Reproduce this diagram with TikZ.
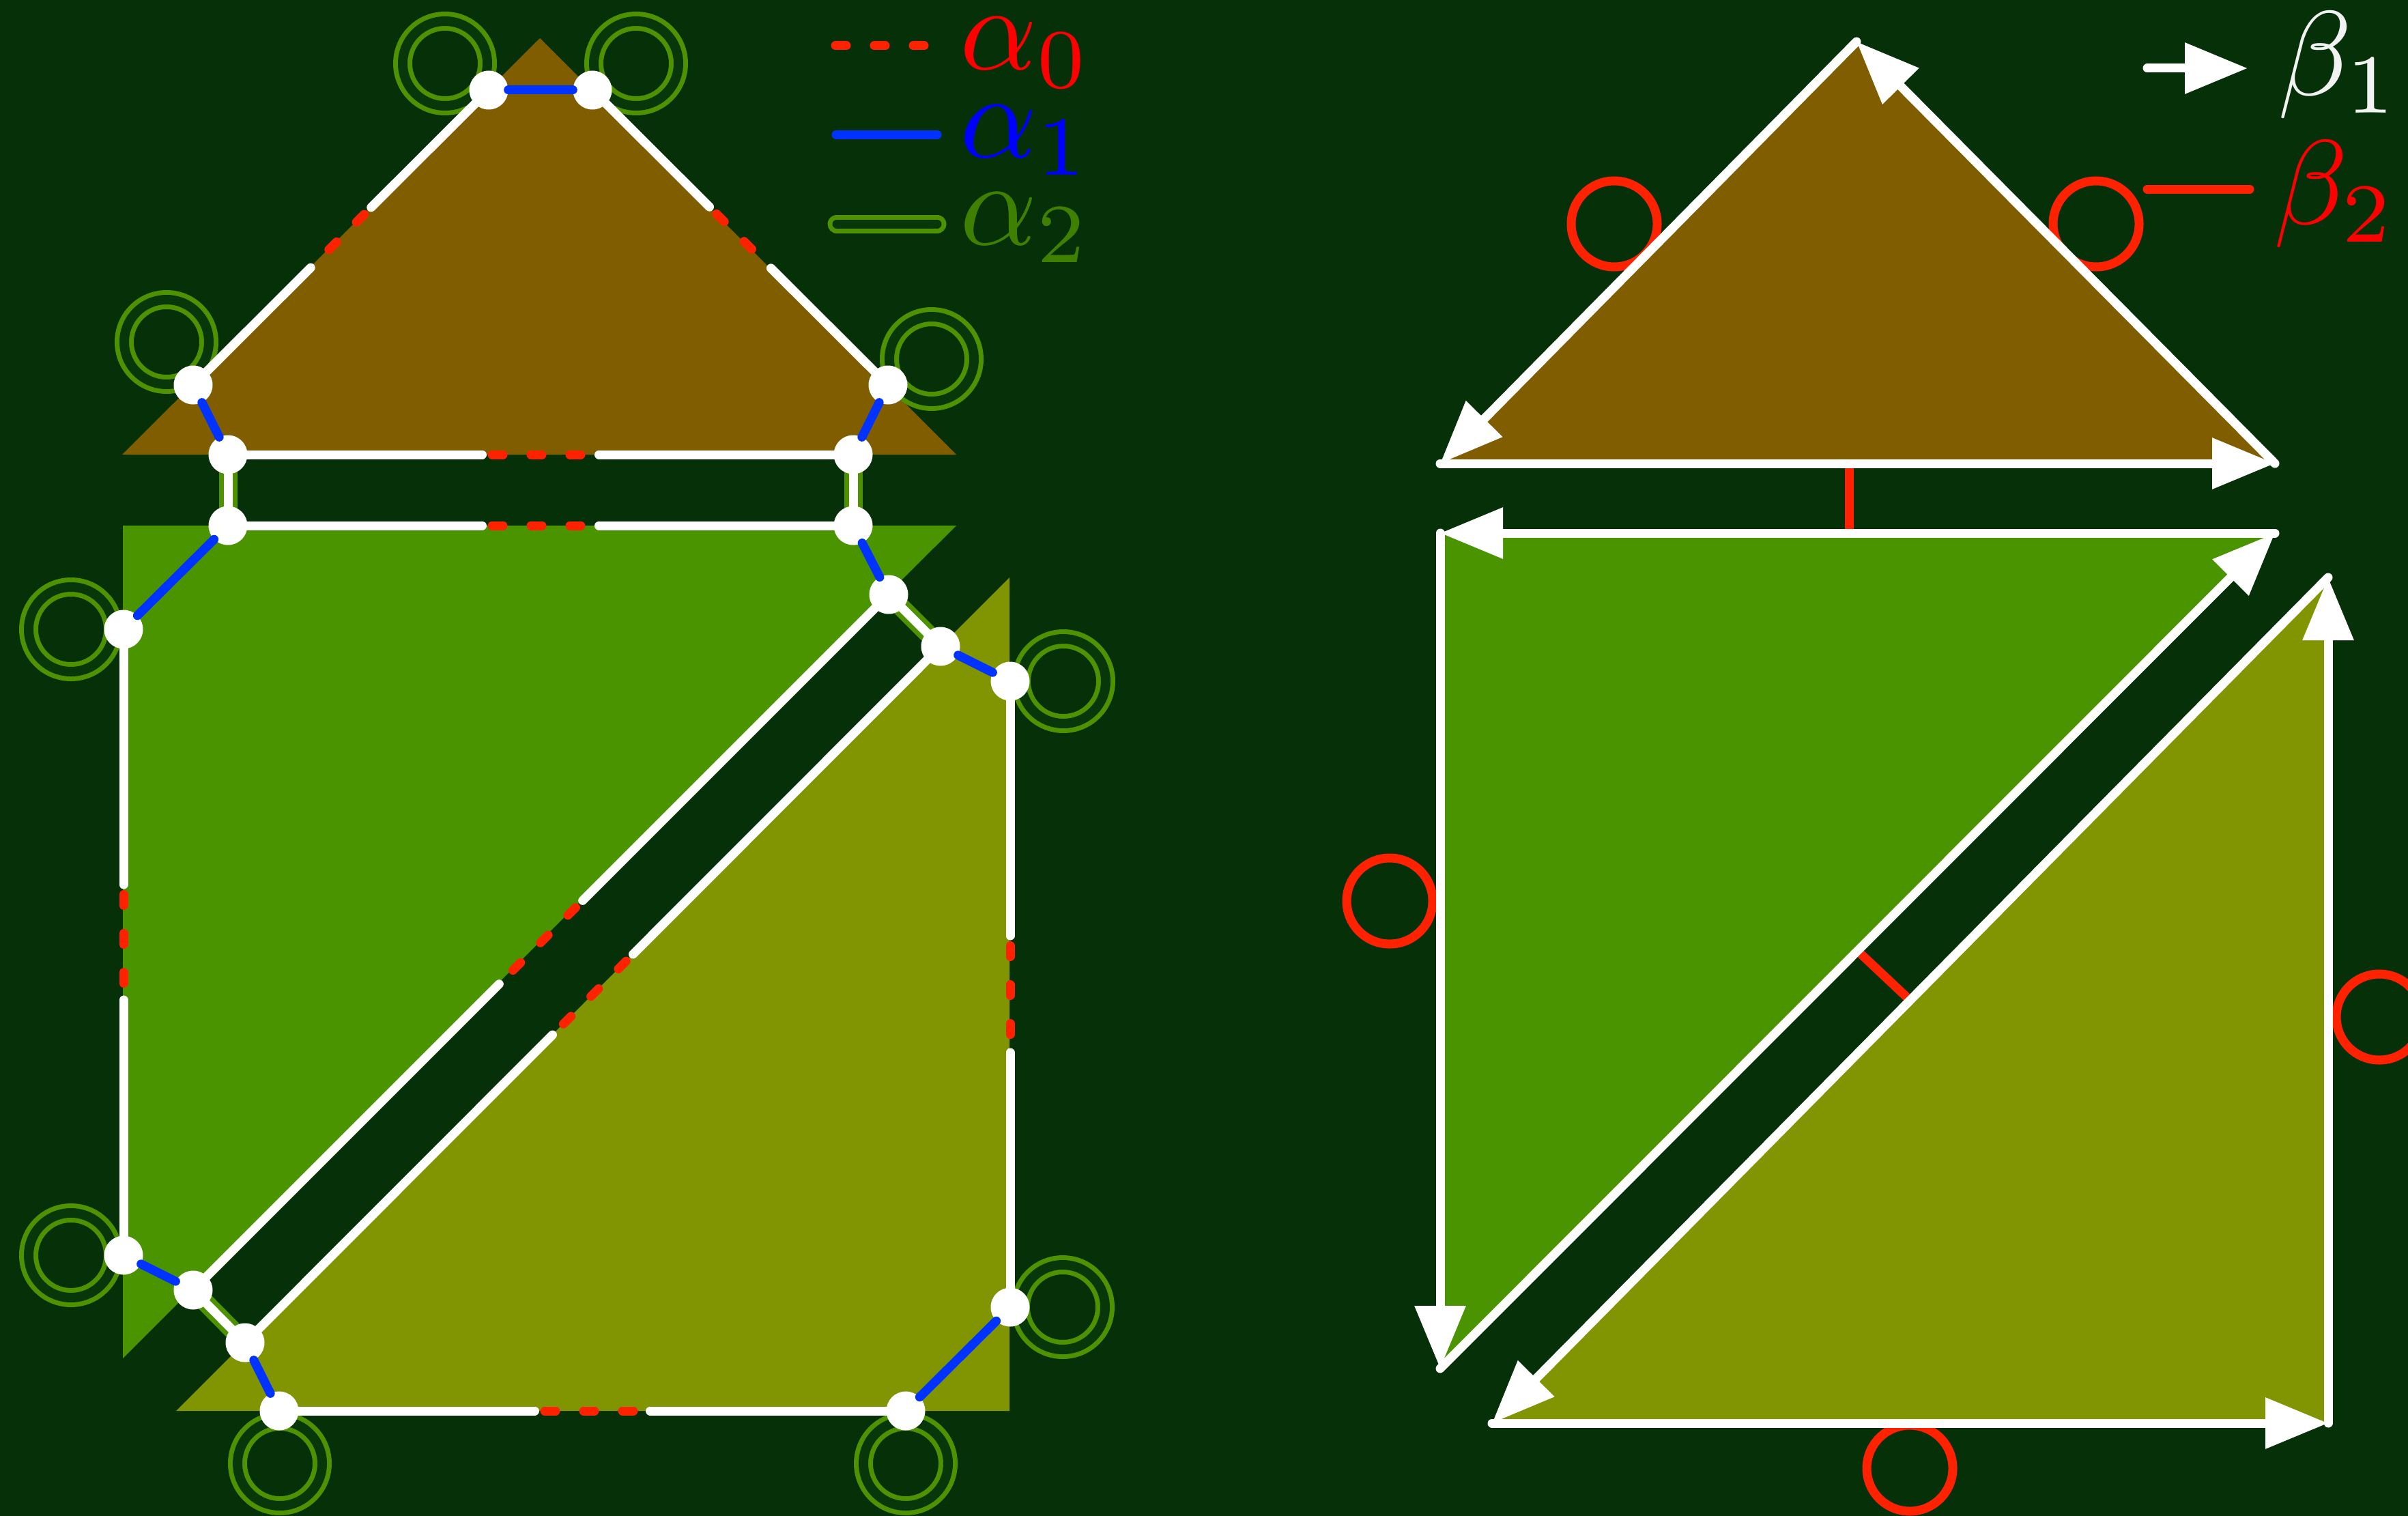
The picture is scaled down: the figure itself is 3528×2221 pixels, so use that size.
\documentclass[tikz,border=0pt]{standalone}
\usetikzlibrary{arrows.meta,calc}
\definecolor{bg}{HTML}{063008}
\definecolor{brownf}{HTML}{805E00}
\definecolor{greenf}{HTML}{4A9400}
\definecolor{olivef}{HTML}{819503}
\definecolor{atwo}{HTML}{4F9200}
\definecolor{atwolab}{HTML}{408000}
\definecolor{rdash}{HTML}{FF2200}
\definecolor{bline}{HTML}{0033FF}
\definecolor{ringgap}{HTML}{08380A}
\definecolor{betaw}{HTML}{F2F2F2}
\newcommand\dedge[3]{%
  \pgfmathsetmacro\dw{#3+6.5}\pgfmathsetmacro\dr{#3-8}%
  \coordinate (#1#2m) at ($(#1)!0.5!(#2)$);
  \draw[azero] ($(#1#2m)!\dr pt!(#1)$) -- ($(#1#2m)!#3pt!(#2)$);
  \draw[dartline] (#1) -- ($(#1#2m)!\dw pt!(#1)$);
  \draw[dartline] (#2) -- ($(#1#2m)!\dw pt!(#2)$);
}
\begin{document}
\begin{tikzpicture}[x=1pt,y=-1pt,
  dartdot/.style={circle,fill=white,minimum size=57pt,inner sep=0pt},
  dartline/.style={white,line width=13pt,line cap=round},
  azero/.style={rdash,line width=13pt,line cap=round,dash pattern=on 16pt off 41pt},
  aone/.style={bline,line width=13pt,line cap=round},
  atwol/.style={draw=atwo,line width=7pt,double=white,double distance=13pt},
  loopring/.style={draw=atwo,line width=7pt,double=ringgap,double distance=14pt},
  barrow/.style={white,line width=13pt,line cap=round,-{Triangle[length=92pt,width=72pt]}},
  btwo/.style={rdash,line width=13pt,line cap=round},
  bring/.style={draw=rdash,line width=13pt},
  lab/.style={inner sep=0pt,anchor=base west,font=\normalsize,scale=17.6},
]
\useasboundingbox (0,0) rectangle (3528,2221);
\fill[bg] (0,0) rectangle (3528,2221);

% ---------------- left diagram ----------------
\fill[brownf] (179,666) -- (791,56) -- (1401,666) -- cycle;
\fill[greenf] (180,770) -- (1401,770) -- (180,1990) -- cycle;
\fill[olivef] (1479,846) -- (1479,2067) -- (258,2067) -- cycle;

\coordinate (D1) at (716,132);
\coordinate (D2) at (868,132);
\coordinate (D3) at (283,564);
\coordinate (D4) at (334,666);
\coordinate (D5) at (1250,666);
\coordinate (D6) at (1301,564);
\coordinate (G1) at (334,770);
\coordinate (G2) at (1250,770);
\coordinate (G3) at (1302,871);
\coordinate (G4) at (181,922);
\coordinate (G5) at (181,1839);
\coordinate (G6) at (283,1890);
\coordinate (O1) at (1378,947);
\coordinate (O2) at (1480,998);
\coordinate (O3) at (1480,1915);
\coordinate (O4) at (1327,2067);
\coordinate (O5) at (409,2067);
\coordinate (O6) at (359,1967);

% alpha2 fixed points
\draw[loopring] (652,93) circle[radius=62pt];
\draw[loopring] (932,93) circle[radius=62pt];
\draw[loopring] (244,501) circle[radius=62pt];
\draw[loopring] (1365,526) circle[radius=62pt];
\draw[loopring] (104,922) circle[radius=62pt];
\draw[loopring] (104,1839) circle[radius=62pt];
\draw[loopring] (1558,998) circle[radius=62pt];
\draw[loopring] (1557,1915) circle[radius=62pt];
\draw[loopring] (1327,2144) circle[radius=62pt];
\draw[loopring] (410,2144) circle[radius=62pt];

% alpha2 links
\draw[atwol] (D4) -- (G1);
\draw[atwol] (D5) -- (G2);
\draw[atwol] (G3) -- (O1);
\draw[atwol] (G6) -- (O6);

% darts with alpha0
\dedge{D1}{D3}{56}
\dedge{D2}{D6}{57}
\dedge{D4}{D5}{79}
\dedge{G1}{G2}{79}
\dedge{G4}{G5}{78}
\dedge{G3}{G6}{80}
\dedge{O1}{O6}{77}
\dedge{O2}{O3}{79}
\dedge{O5}{O4}{78}

% dots
\foreach \n in {D1,D2,D3,D4,D5,D6,G1,G2,G3,G4,G5,G6,O1,O2,O3,O4,O5,O6}
  \node[dartdot] (n\n) at (\n) {};

% alpha1
\draw[aone] (nD1) -- (nD2);
\draw[aone] (nD3) -- (nD4);
\draw[aone] (nD5) -- (nD6);
\draw[aone] (nG1) -- (nG4);
\draw[aone] (nG2) -- (nG3);
\draw[aone] (nG5) -- (nG6);
\draw[aone] (nO1) -- (nO2);
\draw[aone] (nO3) -- (nO4);
\draw[aone] (nO5) -- (nO6);

% legend alpha
\draw[azero] (1224,67) -- (1356,67);
\draw[aone] (1225,197) -- (1373,197);
\draw[atwol,double=ringgap,line cap=round] (1226,328) -- (1373,328);
\node[lab,text=red] (la0) at (1403,102) {$\alpha_0$};
\node[lab,text=blue] (la1) at (1403,230) {$\alpha_1$};
\node[lab,text=atwolab] (la2) at (1403,358) {$\alpha_2$};

% ---------------- right diagram ----------------
\coordinate (bA) at (2720,61);
\coordinate (bL) at (2110,679);
\coordinate (bR) at (3333,679);
\coordinate (gTL) at (2110,781);
\coordinate (gTR) at (3333,781);
\coordinate (gBL) at (2110,2005);
\coordinate (oT) at (3411,846);
\coordinate (oBR) at (3411,2085);
\coordinate (oBL) at (2186,2085);

% beta2 fixed points
\draw[bring] (2365,328) circle[radius=63pt];
\draw[bring] (3071,328) circle[radius=63pt];
\draw[bring] (2036,1320) circle[radius=63pt];
\draw[bring] (3486,1490) circle[radius=63pt];
\draw[bring] (2798,2151) circle[radius=63pt];

\fill[brownf] (bA) -- (bL) -- (bR) -- cycle;
\fill[greenf] (gTL) -- (gTR) -- (gBL) -- cycle;
\fill[olivef] (oT) -- (oBR) -- (oBL) -- cycle;

% beta2 links
\draw[btwo] ($(bL)!0.49!(bR)$) -- ($(gTL)!0.49!(gTR)$);
\draw[btwo] ($(gBL)!0.5!(gTR)$) -- ($(oT)!0.5!(oBL)$);

% beta1 darts
\draw[barrow] (bA) -- (bL);
\draw[barrow] (bL) -- (bR);
\draw[barrow] (bR) -- (bA);
\draw[barrow] (gTR) -- (gTL);
\draw[barrow] (gTL) -- (gBL);
\draw[barrow] (gBL) -- (gTR);
\draw[barrow] (oBL) -- (oBR);
\draw[barrow] (oBR) -- (oT);
\draw[barrow] (oT) -- (oBL);

% legend beta
\coordinate (lb1s) at (3146,100);
\coordinate (lb1e) at (3293,100);
\draw[barrow] (lb1s) -- (lb1e);
\coordinate (lb2s) at (3146,277);
\coordinate (lb2e) at (3296,277);
\draw[btwo] (lb2s) -- (lb2e);
\node[lab,text=betaw] (lb1) at (3334,139) {$\beta_1$};
\node[lab,text=red] (lb2) at (3328,328) {$\beta_2$};
\end{tikzpicture}
\end{document}
